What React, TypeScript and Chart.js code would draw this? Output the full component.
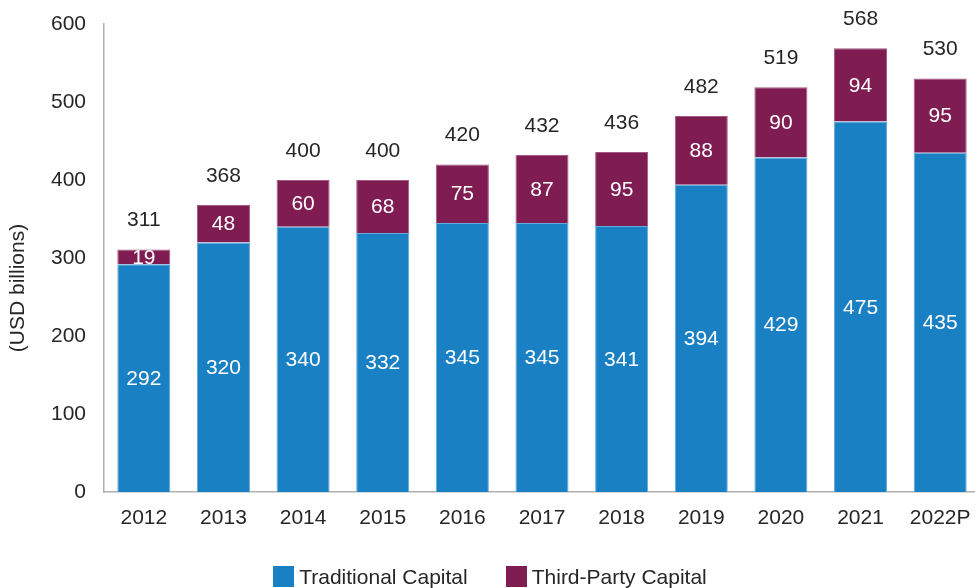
import React, { useEffect, useRef } from "react";
import { Chart, registerables } from "chart.js";

Chart.register(...registerables);

const categories = ["2012", "2013", "2014", "2015", "2016", "2017", "2018", "2019", "2020", "2021", "2022P"];
const traditionalCapital = [292, 320, 340, 332, 345, 345, 341, 394, 429, 475, 435];
const thirdPartyCapital = [19, 48, 60, 68, 75, 87, 95, 88, 90, 94, 95];
const totals = [311, 368, 400, 400, 420, 432, 436, 482, 519, 568, 530];
const seriesNames = ["Traditional Capital", "Third-Party Capital"];
const seriesColors = ["#1a80c4", "#7f1c52"];
const seriesBorders = ["#63abdd", "#a45a82"];
const yTitle = "(USD billions)";

const FONT = "'Liberation Sans', Arial, Helvetica, sans-serif";
const TEXT = "#262626";

const labelsPlugin = {
  id: "valueLabels",
  afterDatasetsDraw(chart: any) {
    const ctx = chart.ctx;
    ctx.save();
    ctx.font = `21px ${FONT}`;
    ctx.textAlign = "center";
    ctx.textBaseline = "middle";
    chart.data.datasets.forEach((ds: any, di: number) => {
      const meta = chart.getDatasetMeta(di);
      meta.data.forEach((el: any, i: number) => {
        const v = ds.data[i];
        ctx.fillStyle = "#ffffff";
        ctx.fillText(String(v), el.x, (el.y + el.base) / 2 + 1);
      });
    });
    const lastMeta = chart.getDatasetMeta(chart.data.datasets.length - 1);
    lastMeta.data.forEach((el: any, i: number) => {
      ctx.fillStyle = TEXT;
      ctx.fillText(String(totals[i]), el.x, el.y - 29);
    });
    // y axis title
    ctx.translate(18, 288);
    ctx.rotate(-Math.PI / 2);
    ctx.fillStyle = TEXT;
    ctx.fillText(yTitle, 0, 0);
    ctx.restore();
  },
};

export default function App() {
  const ref = useRef<HTMLCanvasElement | null>(null);

  useEffect(() => {
    if (!ref.current) return;
    const chart = new Chart(ref.current, {
      type: "bar",
      data: {
        labels: categories,
        datasets: [
          {
            label: seriesNames[0],
            data: traditionalCapital,
            backgroundColor: seriesColors[0],
            borderColor: seriesBorders[0],
            borderWidth: 1,
          },
          {
            label: seriesNames[1],
            data: thirdPartyCapital,
            backgroundColor: seriesColors[1],
            borderColor: seriesBorders[1],
            borderWidth: 1,
          },
        ],
      },
      options: {
        responsive: false,
        animation: false,
        devicePixelRatio: 1,
        layout: { padding: { top: 24, left: 0, right: 0, bottom: 0 } },
        datasets: { bar: { categoryPercentage: 1, barPercentage: 0.666 } },
        plugins: {
          legend: { display: false },
          tooltip: { enabled: false },
        },
        scales: {
          x: {
            stacked: true,
            grid: { display: false, drawTicks: false },
            border: { display: true, color: "#b0b0b0", width: 1.5 },
            ticks: { color: TEXT, font: { family: FONT, size: 21 }, padding: 14, maxRotation: 0, autoSkip: false },
            afterFit: (s: any) => {
              s.height = 96;
              s.paddingLeft = 0;
              s.paddingRight = 0;
            },
          },
          y: {
            stacked: true,
            min: 0,
            max: 600,
            grid: { display: false, drawTicks: false },
            border: { display: true, color: "#b0b0b0", width: 1.5 },
            ticks: { stepSize: 100, color: TEXT, font: { family: FONT, size: 21 }, padding: 18 },
            afterFit: (s: any) => {
              s.width = 104;
              s.paddingTop = 0;
              s.paddingBottom = 0;
            },
          },
        },
      },
      plugins: [labelsPlugin],
    });
    return () => chart.destroy();
  }, []);

  return (
    <div
      style={{
        position: "fixed",
        left: 0,
        top: 0,
        width: 975,
        height: 588,
        overflow: "hidden",
        background: "#fff",
        fontFamily: FONT,
      }}
    >
      <canvas ref={ref} width={980} height={588} style={{ position: "absolute", left: 0, top: 0 }} />
      <div
        style={{
          position: "absolute",
          left: 0,
          top: 566,
          width: 980,
          display: "flex",
          justifyContent: "center",
          gap: 38,
          fontSize: 21,
          color: TEXT,
          lineHeight: "21px",
        }}
      >
        {seriesNames.map((n, i) => (
          <div key={n} style={{ display: "flex", alignItems: "center" }}>
            <span style={{ width: 21, height: 21, background: seriesColors[i], display: "inline-block", marginRight: 5 }} />
            <span>{n}</span>
          </div>
        ))}
      </div>
    </div>
  );
}
